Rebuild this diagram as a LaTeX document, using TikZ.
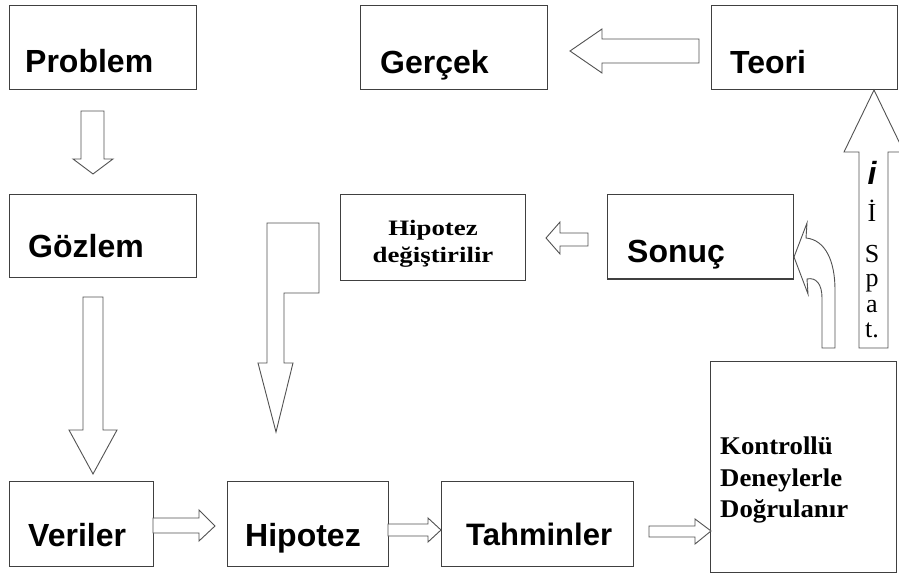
\documentclass[tikz,border=0pt]{standalone}
\usepackage{fontspec}
\setmainfont{Liberation Serif}
\newfontfamily\sansb{Liberation Sans}
\newfontfamily\serifA[FakeStretch=1.22]{Liberation Serif}
\newfontfamily\serifB[FakeStretch=1.05]{Liberation Serif}
\begin{document}
\begin{tikzpicture}[x=1pt,y=-1pt,
  box/.style={draw=black!75, line width=1pt, fill=white, inner sep=0pt},
  blk/.style={draw=black!68, line width=0.9pt, fill=white, line join=miter},
  lbl/.style={font=\sansb\bfseries\fontsize{32}{36}\selectfont, anchor=base west, inner sep=0pt},
]
\useasboundingbox (0,0) rectangle (899,577);
\clip (0,0) rectangle (899,577);

% boxes
\node[box, minimum width=187pt, minimum height=84pt] (problem) at (102.5,48) {};
\node[box, minimum width=187pt, minimum height=84pt] (gercek) at (453.5,48) {};
\node[box, minimum width=186pt, minimum height=84pt] (teori) at (804,48) {};
\node[box, minimum width=187pt, minimum height=83pt] (gozlem) at (102.5,236.5) {};
\node[box, minimum width=185pt, minimum height=85pt] (hipdeg) at (432.5,237.5) {};
\node[box, minimum width=186pt, minimum height=84pt] (sonuc) at (700,237) {};
\node[box, minimum width=144pt, minimum height=85pt] (veriler) at (81,523.5) {};
\node[box, minimum width=161pt, minimum height=85pt] (hipotez) at (307.5,523.5) {};
\node[box, minimum width=192pt, minimum height=85pt] (tahmin) at (537,523.5) {};
\node[box, minimum width=186pt, minimum height=211pt] (kontrol) at (803,466.5) {};

% labels
\node[lbl] (tproblem) at (25,73) {Problem};
\node[lbl] (tgercek) at (380,74) {Gerçek};
\node[lbl] (tteori) at (730,74) {Teori};
\node[lbl] (tgozlem) at (28,258) {Gözlem};
\node[lbl] (tsonuc) at (627,262) {Sonuç};
\node[lbl] (tveriler) at (28,546) {Veriler};
\node[lbl] (thipotez) at (245,546) {Hipotez};
\node[lbl, font=\sansb\bfseries\fontsize{31}{36}\selectfont] (ttahmin) at (466,545) {Tahminler};
\node[font=\serifA\bfseries\fontsize{22}{27}\selectfont, align=center, inner sep=0pt] (thipdeg) at (433,244) {Hipotez\\değiştirilir};
\node[font=\serifB\bfseries\fontsize{25.5}{31.5}\selectfont, align=left, anchor=north west, inner sep=0pt] (tkontrol) at (720,437) {Kontrollü\\Deneylerle\\Doğrulanır};

% block arrows
% Problem -> Gozlem
\draw[blk] (81,111) -- (104,111) -- (104,159) -- (113,159) -- (93,174) -- (73,159) -- (81,159) -- cycle;
% Gozlem -> Veriler
\draw[blk] (83,297) -- (103,297) -- (103,430) -- (117,430) -- (93,474) -- (69,430) -- (83,430) -- cycle;
% Veriler -> Hipotez
\draw[blk] (153,518) -- (199,518) -- (199,510) -- (215,526) -- (199,541) -- (199,533) -- (153,533) -- cycle;
% Hipotez -> Tahminler
\draw[blk] (388,524) -- (428,524) -- (428,518) -- (441,530) -- (428,542) -- (428,536) -- (388,536) -- cycle;
% Tahminler -> Kontrol
\draw[blk] (649,526) -- (695,526) -- (695,519) -- (711,531) -- (695,544) -- (695,537) -- (649,537) -- cycle;
% Kontrol -> Teori (Ispat)
\draw[blk] (859,348) -- (859,152) -- (844,152) -- (874,90) -- (904,152) -- (888,152) -- (888,348) -- cycle;
% Teori -> Gercek
\draw[blk] (699,39) -- (602,39) -- (602,29) -- (570,51) -- (602,73) -- (602,63) -- (699,63) -- cycle;
% Sonuc -> Hipotez degistirilir
\draw[blk] (588,233) -- (560,233) -- (560,222) -- (546,238) -- (560,254) -- (560,246) -- (588,246) -- cycle;
% Hipotez degistirilir -> Hipotez (bent)
\draw[blk] (267,223) -- (319,223) -- (319,293) -- (284,293) -- (284,363) -- (293,363) -- (276,432) -- (258,363) -- (267,363) -- cycle;
% Kontrol -> Sonuc (curved)
\draw[blk] (822,348) -- (822,298) .. controls (822,284) and (816,277) .. (807,279) -- (808,294) -- (794,257) -- (807,223) -- (806,238) .. controls (826,240) and (835,262) .. (835,290) -- (835,348) -- cycle;

% Ispat text in arrow
\node[font=\sansb\bfseries\itshape\fontsize{32}{36}\selectfont, anchor=base, inner sep=0pt] (ti) at (872,185) {i};
\node[font=\fontsize{26}{25}\selectfont, align=center, anchor=north, inner sep=0pt] (tispat) at (872,200) {İ\\[16pt]S\\[-1pt]p\\[1pt]a\\t.};
\end{tikzpicture}
\end{document}
